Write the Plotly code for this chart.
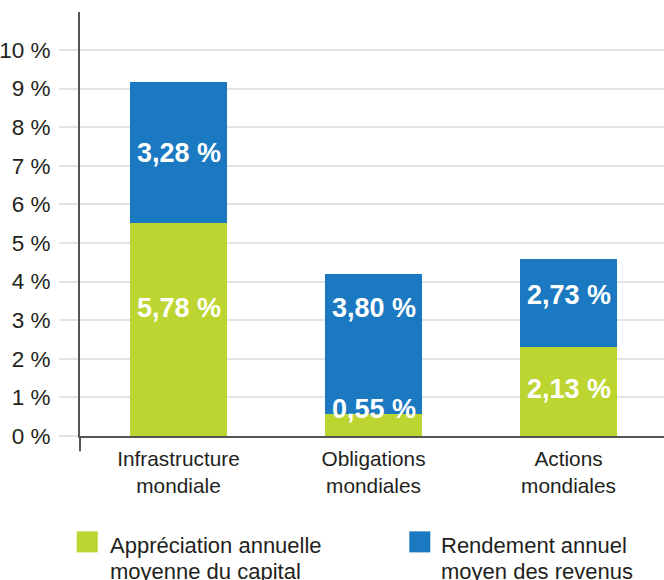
import plotly.graph_objects as go

categories = ["Infrastructure<br>mondiale", "Obligations<br>mondiales", "Actions<br>mondiales"]
appreciation = [5.52, 0.56, 2.30]      # bar heights (%)
rendement = [3.66, 3.63, 2.28]         # bar heights (%)
appreciation_labels = ["5,78 %", "0,55 %", "2,13 %"]
rendement_labels = ["3,28 %", "3,80 %", "2,73 %"]
y_ticks = list(range(0, 11))
y_tick_labels = [f"{v} %" for v in y_ticks]
legend_names = ["Appréciation annuelle<br>moyenne du capital", "Rendement annuel<br>moyen des revenus"]

GREEN = "#bdd531"
BLUE = "#1a79c0"
FONT = "Liberation Sans, Arial, Helvetica, sans-serif"
TXT = "#231f20"

x_idx = list(range(len(categories)))

fig = go.Figure()
fig.add_bar(x=x_idx, y=appreciation, marker=dict(color=GREEN, line=dict(width=0)),
            width=0.5, name=legend_names[0], showlegend=False, hoverinfo="skip")
fig.add_bar(x=x_idx, y=rendement, base=appreciation, marker=dict(color=BLUE, line=dict(width=0)),
            width=0.5, name=legend_names[1], showlegend=False, hoverinfo="skip")

# value labels (pixel shifts to match reference placement)
shift_a = [21, 0, 3]
shift_r = [-1, 36, 8]
annotations = []
for i in x_idx:
    annotations.append(dict(x=i, y=appreciation[i] / 2, text=appreciation_labels[i], showarrow=False,
                            yshift=shift_a[i],
                            font=dict(family=FONT, size=27, color="white", weight="bold")))
    annotations.append(dict(x=i, y=appreciation[i] + rendement[i] / 2, text=rendement_labels[i], showarrow=False,
                            yshift=shift_r[i],
                            font=dict(family=FONT, size=27, color="white", weight="bold")))
# the 0,55 % label sits just over the green segment top
annotations[2]["y"] = appreciation[1]
annotations[2]["yanchor"] = "middle"
annotations[2]["yshift"] = 5

PH = 423.7  # plot-area height in px
PW = 584
Y0 = 435.7  # pixel row of plot bottom
X0 = 80     # pixel column of plot left


def px(xp):
    return (xp - X0) / PW


def py(yp):
    return (Y0 - yp) / PH


swatches = [(76.7, 97.7, GREEN), (409.3, 430.3, BLUE)]
text_x = [109, 440]
shapes = []
for (xa, xb, col), tx, name in zip(swatches, text_x, legend_names):
    shapes.append(dict(type="rect", xref="paper", yref="paper", x0=px(xa), x1=px(xb),
                       y0=py(531), y1=py(552), fillcolor=col, line=dict(width=0)))
    for k, line in enumerate(name.split("<br>")):
        annotations.append(dict(xref="paper", yref="paper", x=px(tx - 1), y=py(531 + 25.7 * k),
                                xanchor="left", yanchor="top", text=line, showarrow=False,
                                align="left", font=dict(family=FONT, size=22, color=TXT)))

# y-axis line continuation below baseline
shapes.append(dict(type="line", xref="paper", yref="paper", x0=0, x1=0, y0=0, y1=py(451),
                   line=dict(color="#555555", width=2)))

fig.update_layout(
    width=664, height=580,
    margin=dict(l=80, r=0, t=12, b=144.3, pad=0),
    plot_bgcolor="white", paper_bgcolor="white",
    barmode="overlay", bargap=0,
    showlegend=False,
    annotations=annotations, shapes=shapes,
    font=dict(family=FONT, color=TXT),
)
fig.update_xaxes(
    tickmode="array", tickvals=x_idx, ticktext=categories,
    range=[-0.5051, 2.4897],
    showline=True, linecolor="#555555", linewidth=2,
    showgrid=False, zeroline=False,
    ticks="outside", ticklen=3, tickcolor="rgba(0,0,0,0)",
    tickfont=dict(family=FONT, size=20.8, color=TXT),
)
fig.update_yaxes(
    tickmode="array", tickvals=y_ticks, ticktext=y_tick_labels,
    range=[0, 10.985],
    showline=True, linecolor="#555555", linewidth=2,
    showgrid=True, gridcolor="#e3e3e3", gridwidth=2,
    zeroline=False,
    ticks="outside", ticklen=19, tickcolor="#e3e3e3", tickwidth=2,
    ticklabelstandoff=4,
    tickfont=dict(family=FONT, size=22.5, color=TXT),
)

fig.write_html("out.html", config={"displayModeBar": False, "staticPlot": True},
               post_script="document.body.style.margin='0';document.body.style.padding='0';")
